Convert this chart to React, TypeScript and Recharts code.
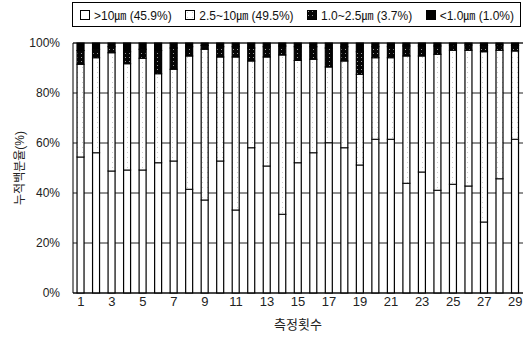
import React from "react";
import { BarChart, Bar, XAxis, YAxis, CartesianGrid } from "recharts";

// 측정회차별 입경 분포 (%) — 그림에서 읽은 값
const runs = [1, 2, 3, 4, 5, 6, 7, 8, 9, 10, 11, 12, 13, 14, 15, 16, 17, 18, 19, 20, 21, 22, 23, 24, 25, 26, 27, 28, 29];
const over10 = [54.4, 56.1, 48.8, 49.2, 49.2, 52.1, 52.8, 41.5, 37.2, 52.8, 33.2, 58.1, 50.8, 31.5, 52.1, 56.1, 60.1, 58.1, 51.2, 61.5, 61.5, 43.9, 48.4, 41.1, 43.5, 42.8, 28.4, 45.7, 61.5];
const from25to10 = [37.1, 38.0, 47.3, 42.5, 44.7, 35.6, 36.7, 53.3, 60.3, 41.6, 61.2, 34.7, 43.6, 63.7, 40.9, 37.4, 30.3, 34.7, 36.3, 32.6, 32.6, 50.9, 46.4, 54.4, 53.6, 54.3, 68.1, 51.4, 35.3];
const from1to25 = [5.5, 3.4, 2.4, 4.8, 3.6, 9.3, 8.5, 3.7, 1.5, 4.1, 4.1, 5.2, 4.1, 3.6, 5.5, 5.0, 7.6, 5.7, 9.0, 4.4, 4.4, 4.0, 4.0, 3.3, 2.1, 2.1, 2.5, 2.1, 2.2];
const under1 = [3.0, 2.5, 1.5, 3.5, 2.5, 3.0, 2.0, 1.5, 1.0, 1.5, 1.5, 2.0, 1.5, 1.2, 1.5, 1.5, 2.0, 1.5, 3.5, 1.5, 1.5, 1.2, 1.2, 1.2, 0.8, 0.8, 1.0, 0.8, 1.0];

const seriesKeys = ["over10", "from25to10", "from1to25", "under1"];
const seriesNames = [">10㎛ (45.9%)", "2.5~10㎛ (49.5%)", "1.0~2.5㎛ (3.7%)", "<1.0㎛ (1.0%)"];
const seriesFills = ["#ffffff", "url(#lightDots)", "url(#darkDots)", "#000000"];
const yTicks = [0, 20, 40, 60, 80, 100];

const data = runs.map((run, i) => ({
  run,
  over10: over10[i],
  from25to10: from25to10[i],
  from1to25: from1to25[i],
  under1: under1[i],
}));

const FONT = "'Liberation Sans', Arial, 'Noto Sans CJK KR', sans-serif";

function YTitle() {
  return (
    <text x={20} y={168} transform="rotate(-90 20 168)" textAnchor="middle"
      dominantBaseline="central" fontSize={12} fill="#222" fontFamily={FONT}>
      누적백분율(%)
    </text>
  );
}

export default function App() {
  return (
    <div style={{ position: "absolute", left: 0, top: 0, width: 525, height: 338, background: "#fff", fontFamily: FONT }}>
      <svg width={0} height={0} style={{ position: "absolute" }}>
        <defs>
          <pattern id="darkDots" width={4} height={4} patternUnits="userSpaceOnUse">
            <rect width={4} height={4} fill="#050505" />
            <rect x={1} y={1} width={1} height={1} fill="#999" />
          </pattern>
          <pattern id="lightDots" width={5} height={5} patternUnits="userSpaceOnUse">
            <rect width={5} height={5} fill="#fff" />
            <rect x={2} y={2} width={1} height={1} fill="#ccc" />
          </pattern>
        </defs>
      </svg>

      <div style={{
        position: "absolute", left: 72, top: 2, width: 449, height: 25, border: "1px solid #000",
        display: "flex", alignItems: "center", justifyContent: "space-between",
        padding: "0 6px 0 7px", boxSizing: "border-box", fontSize: 12, color: "#111",
      }}>
        {seriesNames.map((name, i) => (
          <div key={name} style={{ display: "flex", alignItems: "center" }}>
            <svg width={10} height={10} style={{ marginRight: 4 }}>
              <rect x={0.5} y={0.5} width={9} height={9} fill={seriesFills[i]} stroke="#000" />
            </svg>
            <span>{name}</span>
          </div>
        ))}
      </div>

      <BarChart width={525} height={338} data={data} barCategoryGap="26%"
        margin={{ top: 43, right: 2, bottom: 0, left: 0 }}>
        <CartesianGrid vertical={false} stroke="#222" />
        <XAxis dataKey="run" height={45} interval={1} tickLine={false} tickSize={0} tickMargin={4}
          axisLine={{ stroke: "#000" }}
          tick={{ fontSize: 13, fill: "#222", fontFamily: FONT }}
          label={{ value: "측정횟수", position: "insideBottom", offset: 9, fontSize: 13, fill: "#222", fontFamily: FONT }} />
        <YAxis width={73} domain={[0, 100]} ticks={yTicks} tickFormatter={(v) => `${v}%`}
          tickLine={false} tickSize={0} tickMargin={13} axisLine={{ stroke: "#000" }}
          tick={{ fontSize: 12, fill: "#222", fontFamily: FONT }}
          label={{ content: () => <YTitle /> }} />
        {seriesKeys.map((key, i) => (
          <Bar key={key} dataKey={key} name={seriesNames[i]} stackId="a" fill={seriesFills[i]}
            stroke="#000" strokeWidth={1.2} isAnimationActive={false} />
        ))}
      </BarChart>
    </div>
  );
}
